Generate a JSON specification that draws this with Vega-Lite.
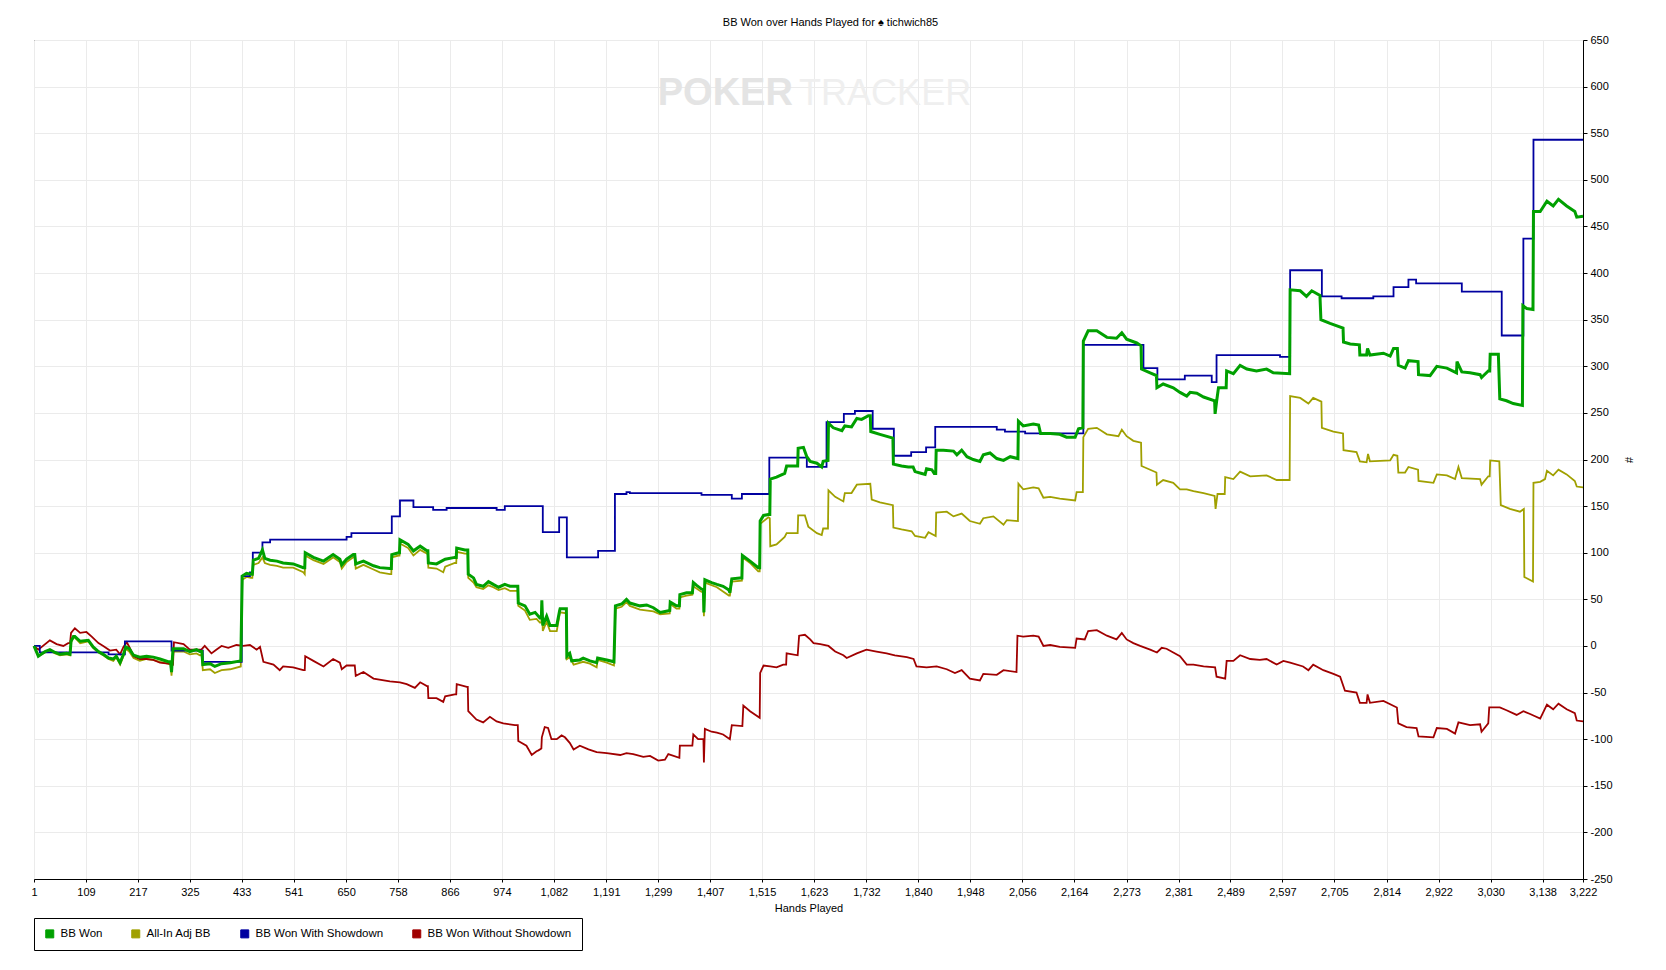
{
  "$schema": "https://vega.github.io/schema/vega-lite/v6.json",
  "width": 1549,
  "height": 839,
  "autosize": {"type": "none"},
  "padding": {"left": 34, "top": 40, "right": 83, "bottom": 91},
  "background": "white",
  "title": {
    "text": "BB Won over Hands Played for ♠ tichwich85",
    "font": "Liberation Sans",
    "fontSize": 11,
    "fontWeight": "normal",
    "color": "black",
    "anchor": "middle",
    "frame": "bounds",
    "offset": 6
  },
  "config": {
    "view": {"stroke": "black", "strokeWidth": 1},
    "axis": {
      "domainColor": "black",
      "tickColor": "black",
      "gridColor": "#ebebeb",
      "gridWidth": 1,
      "labelColor": "black",
      "labelFont": "Liberation Sans",
      "labelFontSize": 11,
      "titleFont": "Liberation Sans",
      "titleFontSize": 11,
      "titleFontWeight": "normal",
      "titleColor": "black",
      "tickSize": 3
    }
  },
  "datasets": {
    "won": [
      {"h":1,"v":0},{"h":10,"v":-11},{"h":24,"v":-6},{"h":34,"v":-4},{"h":45,"v":-7},{"h":55,"v":-9},{"h":69,"v":-8},{"h":76,"v":-9},{"h":78,"v":5},{"h":83,"v":10},{"h":86,"v":10},{"h":97,"v":5},{"h":114,"v":6},{"h":124,"v":-1},{"h":135,"v":-6},{"h":145,"v":-9},{"h":156,"v":-13},{"h":166,"v":-14},{"h":172,"v":-11},{"h":180,"v":-18},{"h":187,"v":-9},{"h":192,"v":-1},{"h":199,"v":-3},{"h":208,"v":-10},{"h":221,"v":-12},{"h":235,"v":-11},{"h":249,"v":-12},{"h":263,"v":-14},{"h":280,"v":-17},{"h":285,"v":-17},{"h":287,"v":-28},{"h":290,"v":-3},{"h":312,"v":-3},{"h":325,"v":-6},{"h":339,"v":-4},{"h":346,"v":-6},{"h":350,"v":-6},{"h":352,"v":-20},{"h":367,"v":-19},{"h":377,"v":-22},{"h":391,"v":-19},{"h":409,"v":-18},{"h":431,"v":-16},{"h":434,"v":75},{"h":443,"v":78},{"h":452,"v":77},{"h":455,"v":77},{"h":457,"v":92},{"h":468,"v":94},{"h":476,"v":103},{"h":481,"v":94},{"h":492,"v":92},{"h":506,"v":91},{"h":519,"v":89},{"h":540,"v":88},{"h":561,"v":84},{"h":564,"v":84},{"h":565,"v":100},{"h":582,"v":95},{"h":603,"v":91},{"h":623,"v":98},{"h":637,"v":93},{"h":641,"v":87},{"h":651,"v":93},{"h":665,"v":98},{"h":668,"v":98},{"h":670,"v":88},{"h":686,"v":91},{"h":707,"v":86},{"h":720,"v":84},{"h":741,"v":83},{"h":744,"v":83},{"h":745,"v":98},{"h":759,"v":100},{"h":761,"v":100},{"h":762,"v":114},{"h":779,"v":109},{"h":790,"v":102},{"h":804,"v":107},{"h":818,"v":102},{"h":820,"v":102},{"h":821,"v":89},{"h":838,"v":88},{"h":856,"v":93},{"h":876,"v":95},{"h":879,"v":95},{"h":880,"v":105},{"h":897,"v":103},{"h":903,"v":103},{"h":904,"v":77},{"h":915,"v":73},{"h":921,"v":66},{"h":935,"v":64},{"h":946,"v":69},{"h":956,"v":66},{"h":967,"v":63},{"h":980,"v":66},{"h":991,"v":64},{"h":1007,"v":64},{"h":1008,"v":46},{"h":1022,"v":43},{"h":1032,"v":34},{"h":1043,"v":36},{"h":1053,"v":30},{"h":1056,"v":30},{"h":1057,"v":49},{"h":1059,"v":22},{"h":1067,"v":32},{"h":1074,"v":22},{"h":1088,"v":22},{"h":1094,"v":38},{"h":1095,"v":40},{"h":1108,"v":40},{"h":1109,"v":-11},{"h":1115,"v":-8},{"h":1119,"v":-16},{"h":1136,"v":-15},{"h":1143,"v":-13},{"h":1157,"v":-16},{"h":1171,"v":-18},{"h":1173,"v":-13},{"h":1192,"v":-15},{"h":1207,"v":-17},{"h":1210,"v":43},{"h":1223,"v":45},{"h":1233,"v":50},{"h":1240,"v":46},{"h":1261,"v":43},{"h":1275,"v":44},{"h":1289,"v":41},{"h":1303,"v":36},{"h":1313,"v":37},{"h":1323,"v":38},{"h":1324,"v":47},{"h":1337,"v":43},{"h":1343,"v":43},{"h":1344,"v":55},{"h":1358,"v":57},{"h":1370,"v":57},{"h":1372,"v":68},{"h":1379,"v":65},{"h":1389,"v":61},{"h":1393,"v":60},{"h":1394,"v":36},{"h":1396,"v":71},{"h":1410,"v":68},{"h":1421,"v":66},{"h":1434,"v":64},{"h":1446,"v":60},{"h":1448,"v":57},{"h":1452,"v":72},{"h":1469,"v":73},{"h":1473,"v":73},{"h":1474,"v":97},{"h":1490,"v":91},{"h":1507,"v":84},{"h":1510,"v":84},{"h":1511,"v":134},{"h":1518,"v":140},{"h":1528,"v":141},{"h":1531,"v":141},{"h":1532,"v":179},{"h":1545,"v":181},{"h":1562,"v":185},{"h":1566,"v":193},{"h":1589,"v":193},{"h":1590,"v":212},{"h":1601,"v":213},{"h":1608,"v":203},{"h":1615,"v":198},{"h":1629,"v":196},{"h":1639,"v":192},{"h":1642,"v":198},{"h":1652,"v":199},{"h":1653,"v":239},{"h":1663,"v":234},{"h":1681,"v":231},{"h":1687,"v":236},{"h":1701,"v":235},{"h":1712,"v":244},{"h":1722,"v":243},{"h":1736,"v":247},{"h":1740,"v":247},{"h":1741,"v":230},{"h":1760,"v":227},{"h":1787,"v":223},{"h":1788,"v":195},{"h":1805,"v":193},{"h":1819,"v":192},{"h":1829,"v":192},{"h":1833,"v":187},{"h":1847,"v":185},{"h":1854,"v":184},{"h":1857,"v":190},{"h":1868,"v":189},{"h":1873,"v":185},{"h":1876,"v":185},{"h":1877,"v":210},{"h":1892,"v":210},{"h":1913,"v":209},{"h":1920,"v":205},{"h":1930,"v":210},{"h":1941,"v":203},{"h":1954,"v":200},{"h":1968,"v":198},{"h":1975,"v":205},{"h":1989,"v":207},{"h":2003,"v":201},{"h":2017,"v":199},{"h":2031,"v":203},{"h":2047,"v":201},{"h":2048,"v":241},{"h":2058,"v":236},{"h":2079,"v":238},{"h":2090,"v":237},{"h":2094,"v":228},{"h":2114,"v":228},{"h":2134,"v":227},{"h":2148,"v":224},{"h":2166,"v":224},{"h":2173,"v":233},{"h":2182,"v":234},{"h":2183,"v":327},{"h":2193,"v":338},{"h":2211,"v":338},{"h":2232,"v":331},{"h":2252,"v":330},{"h":2263,"v":336},{"h":2273,"v":329},{"h":2294,"v":325},{"h":2303,"v":322},{"h":2304,"v":297},{"h":2322,"v":293},{"h":2335,"v":290},{"h":2336,"v":277},{"h":2349,"v":281},{"h":2370,"v":277},{"h":2384,"v":272},{"h":2398,"v":268},{"h":2405,"v":272},{"h":2419,"v":271},{"h":2433,"v":267},{"h":2456,"v":263},{"h":2457,"v":249},{"h":2460,"v":262},{"h":2464,"v":277},{"h":2480,"v":277},{"h":2481,"v":295},{"h":2495,"v":292},{"h":2509,"v":301},{"h":2523,"v":297},{"h":2543,"v":295},{"h":2564,"v":297},{"h":2578,"v":293},{"h":2612,"v":292},{"h":2613,"v":382},{"h":2634,"v":381},{"h":2647,"v":375},{"h":2658,"v":381},{"h":2675,"v":376},{"h":2677,"v":350},{"h":2696,"v":346},{"h":2723,"v":341},{"h":2724,"v":326},{"h":2738,"v":324},{"h":2757,"v":323},{"h":2758,"v":312},{"h":2772,"v":312},{"h":2774,"v":319},{"h":2779,"v":312},{"h":2807,"v":314},{"h":2821,"v":311},{"h":2828,"v":319},{"h":2836,"v":319},{"h":2838,"v":301},{"h":2852,"v":298},{"h":2859,"v":306},{"h":2879,"v":305},{"h":2880,"v":291},{"h":2904,"v":290},{"h":2918,"v":300},{"h":2939,"v":298},{"h":2959,"v":293},{"h":2960,"v":305},{"h":2970,"v":294},{"h":2987,"v":293},{"h":3008,"v":291},{"h":3011,"v":288},{"h":3025,"v":295},{"h":3028,"v":295},{"h":3029,"v":313},{"h":3046,"v":313},{"h":3049,"v":265},{"h":3063,"v":263},{"h":3077,"v":260},{"h":3096,"v":258},{"h":3097,"v":365},{"h":3105,"v":362},{"h":3118,"v":361},{"h":3119,"v":466},{"h":3133,"v":466},{"h":3147,"v":477},{"h":3160,"v":472},{"h":3171,"v":479},{"h":3188,"v":472},{"h":3205,"v":466},{"h":3209,"v":460},{"h":3222,"v":461}
    ],
    "adj": [
      {"h":1,"v":0},{"h":10,"v":-11},{"h":24,"v":-7},{"h":34,"v":-5},{"h":45,"v":-8},{"h":55,"v":-10},{"h":69,"v":-9},{"h":76,"v":-10},{"h":78,"v":4},{"h":83,"v":9},{"h":86,"v":9},{"h":97,"v":3},{"h":114,"v":5},{"h":124,"v":-2},{"h":135,"v":-7},{"h":145,"v":-10},{"h":156,"v":-14},{"h":166,"v":-16},{"h":172,"v":-12},{"h":180,"v":-20},{"h":187,"v":-11},{"h":192,"v":-3},{"h":199,"v":-6},{"h":208,"v":-13},{"h":221,"v":-16},{"h":235,"v":-14},{"h":249,"v":-15},{"h":263,"v":-17},{"h":280,"v":-19},{"h":285,"v":-20},{"h":287,"v":-32},{"h":290,"v":-6},{"h":312,"v":-6},{"h":325,"v":-9},{"h":339,"v":-8},{"h":346,"v":-10},{"h":350,"v":-10},{"h":352,"v":-26},{"h":367,"v":-25},{"h":377,"v":-29},{"h":391,"v":-26},{"h":409,"v":-25},{"h":431,"v":-22},{"h":434,"v":71},{"h":443,"v":74},{"h":452,"v":73},{"h":455,"v":73},{"h":457,"v":87},{"h":468,"v":89},{"h":476,"v":95},{"h":481,"v":89},{"h":492,"v":87},{"h":506,"v":86},{"h":519,"v":84},{"h":540,"v":84},{"h":561,"v":79},{"h":564,"v":77},{"h":565,"v":97},{"h":582,"v":92},{"h":603,"v":88},{"h":623,"v":95},{"h":637,"v":90},{"h":641,"v":83},{"h":651,"v":90},{"h":665,"v":95},{"h":668,"v":95},{"h":670,"v":83},{"h":686,"v":87},{"h":707,"v":82},{"h":720,"v":79},{"h":741,"v":77},{"h":744,"v":77},{"h":745,"v":95},{"h":759,"v":97},{"h":761,"v":97},{"h":762,"v":110},{"h":779,"v":105},{"h":790,"v":97},{"h":804,"v":103},{"h":818,"v":99},{"h":820,"v":99},{"h":821,"v":84},{"h":838,"v":83},{"h":852,"v":79},{"h":856,"v":85},{"h":876,"v":89},{"h":879,"v":89},{"h":880,"v":101},{"h":897,"v":99},{"h":903,"v":99},{"h":904,"v":73},{"h":915,"v":68},{"h":921,"v":63},{"h":935,"v":61},{"h":946,"v":65},{"h":956,"v":63},{"h":967,"v":60},{"h":980,"v":62},{"h":991,"v":59},{"h":1007,"v":59},{"h":1008,"v":43},{"h":1022,"v":38},{"h":1032,"v":28},{"h":1046,"v":29},{"h":1053,"v":25},{"h":1056,"v":25},{"h":1057,"v":45},{"h":1059,"v":16},{"h":1067,"v":26},{"h":1074,"v":16},{"h":1088,"v":16},{"h":1094,"v":34},{"h":1095,"v":36},{"h":1108,"v":35},{"h":1109,"v":-14},{"h":1115,"v":-12},{"h":1123,"v":-20},{"h":1143,"v":-17},{"h":1157,"v":-19},{"h":1171,"v":-23},{"h":1173,"v":-15},{"h":1192,"v":-18},{"h":1207,"v":-21},{"h":1210,"v":40},{"h":1223,"v":42},{"h":1233,"v":47},{"h":1240,"v":43},{"h":1261,"v":39},{"h":1289,"v":37},{"h":1303,"v":34},{"h":1323,"v":35},{"h":1324,"v":45},{"h":1337,"v":40},{"h":1343,"v":40},{"h":1344,"v":52},{"h":1358,"v":54},{"h":1370,"v":55},{"h":1372,"v":64},{"h":1389,"v":58},{"h":1393,"v":58},{"h":1394,"v":32},{"h":1396,"v":68},{"h":1421,"v":63},{"h":1446,"v":54},{"h":1448,"v":54},{"h":1452,"v":69},{"h":1473,"v":70},{"h":1474,"v":95},{"h":1490,"v":89},{"h":1507,"v":80},{"h":1510,"v":80},{"h":1511,"v":131},{"h":1528,"v":138},{"h":1531,"v":137},{"h":1532,"v":107},{"h":1545,"v":109},{"h":1562,"v":117},{"h":1566,"v":121},{"h":1589,"v":121},{"h":1590,"v":140},{"h":1604,"v":140},{"h":1611,"v":128},{"h":1629,"v":121},{"h":1639,"v":119},{"h":1642,"v":126},{"h":1652,"v":126},{"h":1653,"v":167},{"h":1667,"v":160},{"h":1684,"v":155},{"h":1687,"v":164},{"h":1701,"v":164},{"h":1712,"v":173},{"h":1740,"v":174},{"h":1743,"v":157},{"h":1760,"v":154},{"h":1787,"v":151},{"h":1788,"v":127},{"h":1805,"v":125},{"h":1826,"v":123},{"h":1833,"v":118},{"h":1854,"v":116},{"h":1861,"v":122},{"h":1876,"v":118},{"h":1877,"v":143},{"h":1899,"v":144},{"h":1913,"v":139},{"h":1930,"v":142},{"h":1947,"v":134},{"h":1968,"v":131},{"h":1975,"v":137},{"h":1996,"v":139},{"h":2017,"v":130},{"h":2024,"v":135},{"h":2047,"v":134},{"h":2048,"v":174},{"h":2058,"v":168},{"h":2079,"v":170},{"h":2090,"v":169},{"h":2100,"v":159},{"h":2114,"v":160},{"h":2134,"v":158},{"h":2166,"v":156},{"h":2169,"v":165},{"h":2182,"v":165},{"h":2183,"v":224},{"h":2193,"v":233},{"h":2211,"v":234},{"h":2232,"v":227},{"h":2256,"v":225},{"h":2263,"v":232},{"h":2273,"v":225},{"h":2287,"v":220},{"h":2303,"v":218},{"h":2304,"v":193},{"h":2322,"v":189},{"h":2335,"v":186},{"h":2336,"v":173},{"h":2349,"v":178},{"h":2370,"v":175},{"h":2384,"v":168},{"h":2398,"v":168},{"h":2412,"v":166},{"h":2433,"v":164},{"h":2456,"v":161},{"h":2458,"v":147},{"h":2462,"v":163},{"h":2477,"v":163},{"h":2478,"v":181},{"h":2495,"v":179},{"h":2509,"v":187},{"h":2530,"v":182},{"h":2564,"v":183},{"h":2585,"v":178},{"h":2612,"v":178},{"h":2613,"v":268},{"h":2634,"v":266},{"h":2651,"v":260},{"h":2661,"v":266},{"h":2678,"v":262},{"h":2679,"v":234},{"h":2703,"v":230},{"h":2723,"v":228},{"h":2724,"v":210},{"h":2751,"v":208},{"h":2758,"v":198},{"h":2772,"v":197},{"h":2775,"v":206},{"h":2779,"v":198},{"h":2821,"v":199},{"h":2828,"v":205},{"h":2836,"v":204},{"h":2838,"v":186},{"h":2852,"v":186},{"h":2859,"v":192},{"h":2879,"v":189},{"h":2880,"v":177},{"h":2911,"v":175},{"h":2918,"v":184},{"h":2939,"v":183},{"h":2956,"v":179},{"h":2963,"v":192},{"h":2970,"v":180},{"h":3008,"v":179},{"h":3011,"v":173},{"h":3025,"v":182},{"h":3028,"v":182},{"h":3029,"v":199},{"h":3048,"v":198},{"h":3051,"v":151},{"h":3070,"v":147},{"h":3091,"v":144},{"h":3099,"v":147},{"h":3100,"v":74},{"h":3118,"v":69},{"h":3119,"v":175},{"h":3133,"v":176},{"h":3143,"v":179},{"h":3147,"v":188},{"h":3160,"v":183},{"h":3171,"v":189},{"h":3188,"v":184},{"h":3205,"v":177},{"h":3209,"v":171},{"h":3222,"v":170}
    ],
    "sd": [
      {"h":1,"v":0},{"h":13,"v":-7},{"h":156,"v":-9},{"h":190,"v":5},{"h":287,"v":-5},{"h":352,"v":-17},{"h":433,"v":75},{"h":450,"v":79},{"h":456,"v":100},{"h":476,"v":111},{"h":492,"v":114},{"h":651,"v":117},{"h":661,"v":121},{"h":745,"v":139},{"h":762,"v":156},{"h":790,"v":149},{"h":831,"v":146},{"h":859,"v":148},{"h":963,"v":146},{"h":980,"v":150},{"h":1059,"v":122},{"h":1093,"v":138},{"h":1109,"v":95},{"h":1174,"v":102},{"h":1209,"v":163},{"h":1233,"v":165},{"h":1240,"v":164},{"h":1389,"v":162},{"h":1452,"v":158},{"h":1473,"v":163},{"h":1530,"v":202},{"h":1608,"v":192},{"h":1649,"v":240},{"h":1685,"v":249},{"h":1708,"v":252},{"h":1745,"v":233},{"h":1789,"v":204},{"h":1825,"v":208},{"h":1856,"v":213},{"h":1875,"v":235},{"h":2003,"v":232},{"h":2020,"v":230},{"h":2062,"v":228},{"h":2183,"v":323},{"h":2308,"v":298},{"h":2337,"v":286},{"h":2394,"v":290},{"h":2450,"v":283},{"h":2460,"v":312},{"h":2592,"v":310},{"h":2613,"v":403},{"h":2679,"v":375},{"h":2720,"v":373},{"h":2786,"v":375},{"h":2828,"v":385},{"h":2859,"v":393},{"h":2875,"v":389},{"h":2970,"v":380},{"h":3053,"v":333},{"h":3098,"v":437},{"h":3119,"v":543},{"h":3222,"v":543}
    ],
    "nsd": [
      {"h":1,"v":0},{"h":10,"v":-4},{"h":34,"v":6},{"h":48,"v":2},{"h":62,"v":0},{"h":72,"v":3},{"h":76,"v":3},{"h":78,"v":14},{"h":86,"v":19},{"h":97,"v":14},{"h":110,"v":15},{"h":121,"v":10},{"h":135,"v":3},{"h":145,"v":0},{"h":159,"v":-5},{"h":172,"v":-4},{"h":180,"v":-9},{"h":187,"v":-1},{"h":194,"v":4},{"h":201,"v":-3},{"h":208,"v":-11},{"h":221,"v":-14},{"h":235,"v":-14},{"h":249,"v":-15},{"h":263,"v":-18},{"h":280,"v":-19},{"h":290,"v":-20},{"h":292,"v":4},{"h":312,"v":2},{"h":325,"v":-4},{"h":339,"v":-4},{"h":349,"v":-4},{"h":356,"v":0},{"h":370,"v":-8},{"h":380,"v":-4},{"h":391,"v":0},{"h":405,"v":-2},{"h":422,"v":1},{"h":436,"v":0},{"h":450,"v":1},{"h":464,"v":-4},{"h":471,"v":-1},{"h":478,"v":-17},{"h":499,"v":-20},{"h":512,"v":-26},{"h":519,"v":-22},{"h":540,"v":-23},{"h":561,"v":-26},{"h":564,"v":-26},{"h":565,"v":-11},{"h":582,"v":-16},{"h":603,"v":-22},{"h":623,"v":-14},{"h":637,"v":-18},{"h":641,"v":-25},{"h":651,"v":-21},{"h":668,"v":-21},{"h":670,"v":-32},{"h":686,"v":-28},{"h":707,"v":-35},{"h":741,"v":-38},{"h":762,"v":-39},{"h":776,"v":-41},{"h":793,"v":-45},{"h":804,"v":-39},{"h":818,"v":-43},{"h":820,"v":-43},{"h":821,"v":-56},{"h":838,"v":-56},{"h":852,"v":-60},{"h":856,"v":-54},{"h":876,"v":-52},{"h":879,"v":-52},{"h":880,"v":-41},{"h":901,"v":-44},{"h":903,"v":-44},{"h":904,"v":-70},{"h":921,"v":-79},{"h":935,"v":-82},{"h":949,"v":-76},{"h":963,"v":-81},{"h":977,"v":-83},{"h":1001,"v":-85},{"h":1007,"v":-85},{"h":1008,"v":-102},{"h":1025,"v":-107},{"h":1036,"v":-117},{"h":1046,"v":-113},{"h":1050,"v":-112},{"h":1056,"v":-110},{"h":1057,"v":-98},{"h":1063,"v":-87},{"h":1070,"v":-88},{"h":1077,"v":-100},{"h":1088,"v":-100},{"h":1098,"v":-96},{"h":1105,"v":-98},{"h":1115,"v":-104},{"h":1123,"v":-111},{"h":1136,"v":-107},{"h":1154,"v":-111},{"h":1171,"v":-114},{"h":1192,"v":-115},{"h":1220,"v":-117},{"h":1233,"v":-115},{"h":1247,"v":-116},{"h":1268,"v":-119},{"h":1282,"v":-118},{"h":1299,"v":-123},{"h":1313,"v":-122},{"h":1320,"v":-116},{"h":1343,"v":-120},{"h":1344,"v":-107},{"h":1370,"v":-107},{"h":1372,"v":-95},{"h":1382,"v":-100},{"h":1393,"v":-100},{"h":1394,"v":-125},{"h":1396,"v":-89},{"h":1410,"v":-92},{"h":1421,"v":-93},{"h":1434,"v":-95},{"h":1448,"v":-100},{"h":1452,"v":-85},{"h":1474,"v":-86},{"h":1476,"v":-64},{"h":1490,"v":-70},{"h":1510,"v":-77},{"h":1511,"v":-29},{"h":1518,"v":-21},{"h":1532,"v":-22},{"h":1545,"v":-23},{"h":1559,"v":-20},{"h":1565,"v":-20},{"h":1566,"v":-8},{"h":1589,"v":-10},{"h":1592,"v":11},{"h":1604,"v":12},{"h":1615,"v":7},{"h":1622,"v":3},{"h":1636,"v":2},{"h":1653,"v":0},{"h":1667,"v":-6},{"h":1684,"v":-10},{"h":1691,"v":-13},{"h":1712,"v":-8},{"h":1732,"v":-4},{"h":1753,"v":-6},{"h":1774,"v":-8},{"h":1791,"v":-10},{"h":1816,"v":-12},{"h":1830,"v":-14},{"h":1836,"v":-22},{"h":1857,"v":-23},{"h":1878,"v":-22},{"h":1899,"v":-25},{"h":1916,"v":-29},{"h":1930,"v":-26},{"h":1947,"v":-35},{"h":1968,"v":-37},{"h":1975,"v":-30},{"h":2003,"v":-31},{"h":2017,"v":-26},{"h":2044,"v":-28},{"h":2046,"v":11},{"h":2058,"v":10},{"h":2079,"v":11},{"h":2090,"v":10},{"h":2100,"v":0},{"h":2114,"v":1},{"h":2134,"v":-1},{"h":2166,"v":-2},{"h":2169,"v":8},{"h":2186,"v":7},{"h":2193,"v":16},{"h":2211,"v":17},{"h":2232,"v":11},{"h":2252,"v":7},{"h":2263,"v":14},{"h":2273,"v":7},{"h":2287,"v":3},{"h":2301,"v":0},{"h":2322,"v":-4},{"h":2336,"v":-7},{"h":2346,"v":-2},{"h":2356,"v":-3},{"h":2370,"v":-7},{"h":2384,"v":-11},{"h":2398,"v":-20},{"h":2412,"v":-20},{"h":2433,"v":-22},{"h":2457,"v":-23},{"h":2460,"v":-33},{"h":2478,"v":-35},{"h":2481,"v":-16},{"h":2495,"v":-16},{"h":2509,"v":-10},{"h":2530,"v":-14},{"h":2550,"v":-15},{"h":2564,"v":-14},{"h":2585,"v":-20},{"h":2599,"v":-16},{"h":2613,"v":-18},{"h":2640,"v":-22},{"h":2651,"v":-26},{"h":2661,"v":-20},{"h":2682,"v":-26},{"h":2703,"v":-30},{"h":2717,"v":-33},{"h":2727,"v":-48},{"h":2751,"v":-50},{"h":2758,"v":-61},{"h":2772,"v":-61},{"h":2774,"v":-52},{"h":2779,"v":-61},{"h":2807,"v":-59},{"h":2835,"v":-66},{"h":2838,"v":-83},{"h":2855,"v":-87},{"h":2876,"v":-88},{"h":2880,"v":-97},{"h":2911,"v":-98},{"h":2918,"v":-88},{"h":2939,"v":-89},{"h":2956,"v":-94},{"h":2963,"v":-82},{"h":2987,"v":-85},{"h":3008,"v":-84},{"h":3011,"v":-92},{"h":3025,"v":-83},{"h":3027,"v":-66},{"h":3049,"v":-66},{"h":3063,"v":-69},{"h":3084,"v":-74},{"h":3098,"v":-70},{"h":3112,"v":-73},{"h":3133,"v":-78},{"h":3147,"v":-63},{"h":3160,"v":-68},{"h":3171,"v":-62},{"h":3188,"v":-68},{"h":3205,"v":-72},{"h":3209,"v":-80},{"h":3222,"v":-81}
    ],
    "mark": [
      {"t":"POKER","h":1579,"v":580},
      {"t":"TRACKER","h":1592,"v":580}
    ]
  },
  "layer": [
    {
      "data": {"name": "mark"},
      "transform": [{"filter": "datum.t === 'POKER'"}],
      "mark": {"type": "text", "align": "right", "baseline": "alphabetic", "font": "Liberation Sans", "fontSize": 38, "fontWeight": "bold", "color": "#e4e4e4"},
      "encoding": {
        "x": {
          "field": "h", "type": "quantitative",
          "scale": {"domain": [1, 3222], "nice": false, "zero": false},
          "axis": {
            "orient": "bottom",
            "values": [1,109,217,325,433,541,650,758,866,974,1082,1191,1299,1407,1515,1623,1732,1840,1948,2056,2164,2273,2381,2489,2597,2705,2814,2922,3030,3138,3222],
            "format": ",.0f",
            "title": "Hands Played",
            "labelFlush": false,
            "labelOverlap": false,
            "labelPadding": 4,
            "titlePadding": 5
          }
        },
        "y": {
          "field": "v", "type": "quantitative",
          "scale": {"domain": [-250, 650], "nice": false, "zero": false},
          "axis": {
            "orient": "right",
            "values": [-250,-200,-150,-100,-50,0,50,100,150,200,250,300,350,400,450,500,550,600,650],
            "labelExpr": "datum.value < 0 ? '-' + abs(datum.value) : '' + datum.value",
            "title": "#",
            "labelPadding": 3,
            "tickSize": 4,
            "titlePadding": 10
          }
        },
        "text": {"field": "t"}
      }
    },
    {
      "data": {"name": "mark"},
      "transform": [{"filter": "datum.t === 'TRACKER'"}],
      "mark": {"type": "text", "align": "left", "baseline": "alphabetic", "font": "Liberation Sans", "fontSize": 36, "color": "#efefef"},
      "encoding": {
        "x": {"field": "h", "type": "quantitative"},
        "y": {"field": "v", "type": "quantitative"},
        "text": {"field": "t"}
      }
    },
    {
      "mark": {"type": "rule", "color": "black", "strokeWidth": 1},
      "encoding": {"y": {"datum": 0, "type": "quantitative"}}
    },
    {
      "data": {"name": "adj"},
      "mark": {"type": "line", "strokeWidth": 1.8},
      "encoding": {
        "x": {"field": "h", "type": "quantitative"},
        "y": {"field": "v", "type": "quantitative"},
        "color": {
          "datum": "All-In Adj BB",
          "scale": {
            "domain": ["BB Won", "All-In Adj BB", "BB Won With Showdown", "BB Won Without Showdown"],
            "range": ["#00a000", "#a0a000", "#0000a0", "#a00000"]
          },
          "legend": {
            "orient": "bottom",
            "direction": "horizontal",
            "title": null,
            "strokeColor": "black",
            "fillColor": "white",
            "padding": 10,
            "offset": 5,
            "symbolType": "square",
            "symbolSize": 64,
            "symbolStrokeColor": "black",
            "symbolStrokeWidth": 1,
            "symbolOpacity": 1,
            "labelFont": "Liberation Sans",
            "labelFontSize": 11.5,
            "labelColor": "black",
            "labelOffset": 5,
            "columnPadding": 26,
            "encode": {
              "symbols": {
                "update": {
                  "fill": {"scale": "color", "field": "value"},
                  "stroke": {"value": "black"},
                  "strokeWidth": {"value": 1}
                }
              }
            }
          }
        }
      }
    },
    {
      "data": {"name": "nsd"},
      "mark": {"type": "line", "strokeWidth": 1.8},
      "encoding": {
        "x": {"field": "h", "type": "quantitative"},
        "y": {"field": "v", "type": "quantitative"},
        "color": {"datum": "BB Won Without Showdown"}
      }
    },
    {
      "data": {"name": "sd"},
      "mark": {"type": "line", "strokeWidth": 1.8, "interpolate": "step-after"},
      "encoding": {
        "x": {"field": "h", "type": "quantitative"},
        "y": {"field": "v", "type": "quantitative"},
        "color": {"datum": "BB Won With Showdown"}
      }
    },
    {
      "data": {"name": "won"},
      "mark": {"type": "line", "strokeWidth": 3},
      "encoding": {
        "x": {"field": "h", "type": "quantitative"},
        "y": {"field": "v", "type": "quantitative"},
        "color": {"datum": "BB Won"}
      }
    }
  ]
}
